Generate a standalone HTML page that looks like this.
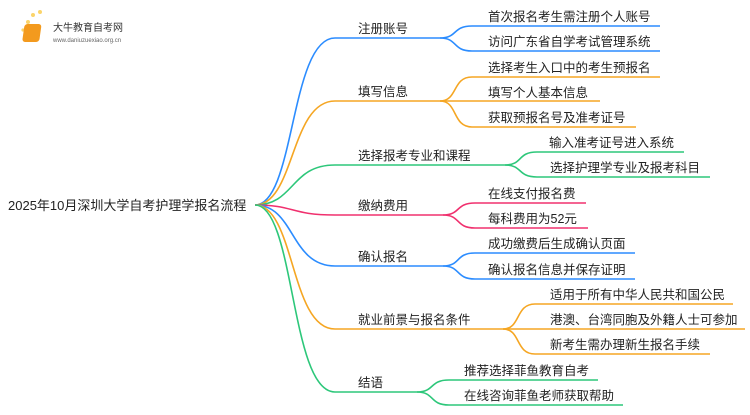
<!DOCTYPE html>
<html><head><meta charset="utf-8"><style>
body{margin:0;background:#fff;}
svg text{font-family:"Liberation Sans","Noto Sans CJK SC",sans-serif;font-size:12.5px;fill:#222;}
</style></head><body>
<svg width="750" height="410" viewBox="0 0 750 410" xmlns="http://www.w3.org/2000/svg">
<g fill="none" stroke-width="1.6">
<path d="M255,205 C295,205 290,38 335,38 L440,38" stroke="#2b8cff"/>
<path d="M255,205 C295,205 290,101 335,101 L440,101" stroke="#f5a623"/>
<path d="M255,205 C295,205 290,165 335,165 L505,165" stroke="#2dc77a"/>
<path d="M255,205 C295,205 290,215 335,215 L443,215" stroke="#f0306e"/>
<path d="M255,205 C295,205 290,266 335,266 L443,266" stroke="#2b8cff"/>
<path d="M255,205 C295,205 290,329 335,329 L503,329" stroke="#f5a623"/>
<path d="M255,205 C295,205 290,392 335,392 L417,392" stroke="#2dc77a"/>
<g stroke="#2b8cff">
<path d="M440,38 C458,38 452,26 472,26 L660,26"/>
<path d="M440,38 C458,38 452,51 472,51 L660,51"/>
<path d="M443,266 C461,266 455,253 475,253 L635,253"/>
<path d="M443,266 C461,266 455,279 475,279 L635,279"/>
</g>
<g stroke="#f5a623">
<path d="M440,101 C458,101 452,77 472,77 L660,77"/>
<path d="M440,101 L600,101"/>
<path d="M440,101 C458,101 452,127 472,127 L636,127"/>
<path d="M503,329 C521,329 515,304 535,304 L733,304"/>
<path d="M503,329 L745,329"/>
<path d="M503,329 C521,329 515,354 535,354 L710,354"/>
</g>
<g stroke="#2dc77a">
<path d="M505,165 C523,165 517,152 537,152 L684,152"/>
<path d="M505,165 C523,165 517,177 537,177 L710,177"/>
<path d="M417,392 C435,392 429,380 449,380 L598,380"/>
<path d="M417,392 C435,392 429,405 449,405 L623,405"/>
</g>
<g stroke="#f0306e">
<path d="M443,215 C461,215 455,203 475,203 L586,203"/>
<path d="M443,215 C461,215 455,228 475,228 L588,228"/>
</g>
</g>
<g>
<circle cx="28" cy="22" r="2" fill="#fbd46a"/><circle cx="33" cy="15" r="2" fill="#fbd46a"/><circle cx="40" cy="12" r="2" fill="#fbd46a"/><circle cx="23" cy="30" r="1.6" fill="#fbd46a"/>
<rect x="28" y="24" width="17" height="18" rx="3" fill="#f39a1e" transform="skewX(-8)"/>
<text x="53" y="31" style="font-size:10px;fill:#333">大牛教育自考网</text>
<text x="53" y="42" style="font-size:6px;fill:#666">www.daniuzuexiao.org.cn</text>
</g>
<text x="8" y="210" style="font-size:13px">2025年10月深圳大学自考护理学报名流程</text>
<text x="358" y="33">注册账号</text>
<text x="358" y="96">填写信息</text>
<text x="358" y="160">选择报考专业和课程</text>
<text x="358" y="210">缴纳费用</text>
<text x="358" y="261">确认报名</text>
<text x="358" y="324">就业前景与报名条件</text>
<text x="358" y="387">结语</text>
<text x="488" y="21">首次报名考生需注册个人账号</text>
<text x="488" y="46">访问广东省自学考试管理系统</text>
<text x="488" y="72">选择考生入口中的考生预报名</text>
<text x="488" y="97">填写个人基本信息</text>
<text x="488" y="122">获取预报名号及准考证号</text>
<text x="549" y="147">输入准考证号进入系统</text>
<text x="550" y="172">选择护理学专业及报考科目</text>
<text x="488" y="198">在线支付报名费</text>
<text x="488" y="223">每科费用为52元</text>
<text x="488" y="248">成功缴费后生成确认页面</text>
<text x="488" y="274">确认报名信息并保存证明</text>
<text x="550" y="299">适用于所有中华人民共和国公民</text>
<text x="550" y="324">港澳、台湾同胞及外籍人士可参加</text>
<text x="550" y="349">新考生需办理新生报名手续</text>
<text x="464" y="375">推荐选择菲鱼教育自考</text>
<text x="464" y="400">在线咨询菲鱼老师获取帮助</text>
</svg>
</body></html>
